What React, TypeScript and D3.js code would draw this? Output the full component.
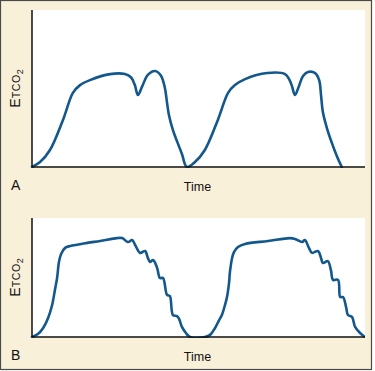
import React from "react";
import * as d3 from "d3";

// Panel A: normal-ish capnogram with a curare cleft (time s, EtCO2 mmHg)
const timeA = [0, 0.26, 0.58, 1.0, 1.32, 1.55, 1.87, 2.52, 3.0, 3.2, 3.32, 3.42, 3.55, 3.74, 3.97, 4.16, 4.29, 4.36, 4.42, 4.55, 4.68, 4.84, 5.0,
  5.26, 5.58, 6.0, 6.33, 6.55, 6.88, 7.59, 8.17, 8.3, 8.39, 8.49, 8.62, 8.75, 8.91, 9.14, 9.27, 9.33, 9.39, 9.52, 9.68, 9.84, 10.0];
const co2A = [0, 1.9, 6.5, 18.0, 28.3, 31.3, 33.2, 35.5, 35.5, 34.2, 31.3, 27.5, 30.6, 35.2, 36.7, 35.0, 30.2, 24.5, 19.9, 14.1, 9.9, 5.0, 0,
  1.9, 6.5, 18.0, 28.3, 31.3, 33.6, 35.9, 35.5, 33.6, 31.0, 27.5, 31.0, 34.8, 36.3, 35.9, 33.2, 27.5, 21.0, 14.9, 9.2, 4.2, 0];

// Panel B: stepped expiratory downstroke
const timeB = [0, 0.19, 0.36, 0.52, 0.65, 0.74, 0.81, 0.87, 0.94, 1.07, 1.23, 1.78, 2.2, 2.74, 2.91, 3.1, 3.23, 3.33, 3.49, 3.65, 3.74, 3.81, 3.91, 4.04, 4.13, 4.23, 4.36, 4.45, 4.55, 4.68, 4.75, 4.84, 4.97, 5.1,
  5.58, 5.75, 5.91, 6.04, 6.13, 6.23, 6.29, 6.36, 6.39, 6.46, 6.52, 6.65, 6.88, 7.62, 8.33, 8.49, 8.72, 8.81, 8.94, 9.04, 9.23, 9.33, 9.39, 9.55, 9.65, 9.72, 9.88, 9.95, 10.04, 10.14, 10.2, 10.33, 10.43, 10.59, 10.75];
const co2B = [0, 1.1, 3.4, 7.2, 12.1, 17.8, 22.3, 28.4, 31.4, 33.7, 34.4, 35.6, 36.3, 37.4, 37.4, 35.9, 36.7, 34.8, 31.8, 32.5, 29.9, 28.4, 29.1, 26.1, 22.3, 22.3, 15.9, 15.5, 8.3, 7.9, 6.8, 3.8, 1.5, 0,
  0, 0.8, 3.4, 6.4, 8.3, 12.1, 14.8, 20.4, 24.6, 29.9, 32.1, 34.0, 35.2, 36.3, 37.4, 37.1, 35.9, 36.7, 33.7, 31.8, 32.5, 29.9, 28.0, 28.7, 25.3, 21.6, 21.6, 15.1, 15.1, 11.3, 8.3, 7.6, 3.8, 1.5, 0];

const panelLabels = ["A", "B"];
const xLabel = "Time";

const W = 375, H = 371;
const left = 32, right = 365;
const BLUE = "#13588C";
const CREAM = "#F8F0D9";

type P = { t: number; v: number };

function Panel({ times, vals, top, bottom, yMax, label, labelY, clipId }:
  { times: number[]; vals: number[]; top: number; bottom: number; yMax: number; label: string; labelY: number; clipId: string }) {
  const x = d3.scaleLinear().domain([0, 10.75]).range([left, right]);
  const y = d3.scaleLinear().domain([0, yMax]).range([bottom, top]);
  const pts: P[] = times.map((t, i) => ({ t, v: vals[i] }));
  const line = d3.line<P>().x(d => x(d.t)).y(d => y(d.v)).curve(d3.curveCatmullRom.alpha(0.5));
  const midY = (top + bottom) / 2;
  const midX = (left + right) / 2;
  const font = "'Liberation Sans', Arial, sans-serif";
  return (
    <g>
      <clipPath id={clipId}>
        <rect x={left - 3} y={top} width={right - left + 3} height={bottom - top + 1} />
      </clipPath>
      <rect x={left} y={top} width={right - left} height={bottom - top} fill="#fff" />
      <path d={line(pts) || ""} fill="none" stroke={BLUE} strokeWidth={2.6} strokeLinejoin="round" strokeLinecap="round" clipPath={`url(#${clipId})`} />
      <line x1={left} x2={left} y1={top} y2={bottom} stroke="#111" strokeWidth={1.5} />
      <line x1={left} x2={right} y1={bottom} y2={bottom} stroke="#111" strokeWidth={1.5} />
      <text x={midX - 1} y={labelY + 1} textAnchor="middle" fontFamily={font} fontSize={12.5} fill="#111">{xLabel}</text>
      <text x={11} y={labelY} fontFamily={font} fontSize={14} fill="#111">{label}</text>
      <text transform={`translate(19.5,${midY}) rotate(-90)`} textAnchor="middle" fontFamily={font} fill="#111">
        <tspan fontSize={14}>E</tspan>
        <tspan fontSize={10.5} letterSpacing={0.6}>TCO</tspan>
        <tspan fontSize={9} dy={3}>2</tspan>
      </text>
    </g>
  );
}

export default function App() {
  return (
    <svg width={W} height={H} style={{ position: "absolute", left: 0, top: 0, background: "#fff" }}>
      <rect x={0.5} y={0.5} width={371} height={369} fill={CREAM} stroke="#4a4a4a" strokeWidth={1.2} />
      <Panel times={timeA} vals={co2A} top={10} bottom={167} yMax={60} label={panelLabels[0]} labelY={190} clipId="clipA" />
      <Panel times={timeB} vals={co2B} top={218} bottom={337} yMax={45} label={panelLabels[1]} labelY={360} clipId="clipB" />
    </svg>
  );
}
